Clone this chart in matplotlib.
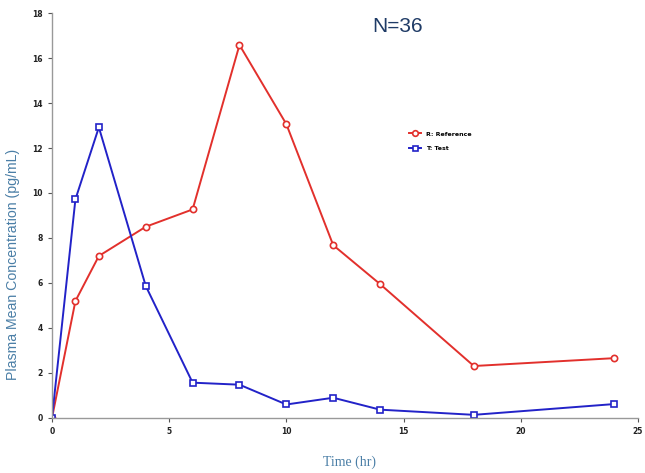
import matplotlib.pyplot as plt

# sampling times (hr)
times = [0, 1, 2, 4, 6, 8, 10, 12, 14, 18, 24]

# mean plasma concentrations (pg/mL)
reference = [0, 5.2, 7.2, 8.5, 9.27, 16.58, 13.06, 7.68, 5.95, 2.31, 2.66]
test = [0, 9.72, 12.92, 5.87, 1.57, 1.48, 0.6, 0.9, 0.37, 0.14, 0.62]

x_ticks = [0, 5, 10, 15, 20, 25]
y_ticks = [0, 2, 4, 6, 8, 10, 12, 14, 16, 18]

# figure
fig = plt.figure(figsize=(6.45, 4.73), dpi=100)
ax = fig.add_axes([0.0806, 0.1163, 0.9084, 0.8562])

ax.plot(times, reference, label="R: Reference", color='#e2302c', linewidth=1.4,
        marker='o', markersize=4.5, markerfacecolor='white', markeredgewidth=1.2)
ax.plot(times, test, label="T: Test", color='#2222c8', linewidth=1.4,
        marker='s', markersize=4, markerfacecolor='white', markeredgewidth=1.2)

ax.set_xlim(0, 25)
ax.set_ylim(0, 18)
ax.set_xticks(x_ticks)
ax.set_yticks(y_ticks)
ax.tick_params(labelsize=5.5, width=0.8, length=3, colors='#555555', labelcolor='#222222')
for lbl in ax.get_xticklabels() + ax.get_yticklabels():
    lbl.set_fontweight('bold')

# only left and bottom axis lines
for side in ['top', 'right']:
    ax.spines[side].set_visible(False)
for side in ['left', 'bottom']:
    ax.spines[side].set_color('#999999')
    ax.spines[side].set_linewidth(1.0)

ax.set_ylabel('Plasma Mean Concentration (pg/mL)', fontsize=10.2,
              family='Liberation Sans', color='#4a7ea6')
ax.yaxis.set_label_coords(-0.054, 0.378)
ax.set_xlabel('Time (hr)', fontsize=10, family='Liberation Serif',
              color='#4a7ea6')
ax.xaxis.set_label_coords(0.508, -0.092)

fig.text(0.616, 0.943, 'N=36', fontsize=15, color='#1f3b66',
         family='Liberation Sans', ha='center', va='center')

ax.legend(loc='upper left', bbox_to_anchor=(0.599, 0.722),
          frameon=False, handlelength=2, markerscale=0.9, labelspacing=1.45,
          prop={'weight': 'bold', 'size': 4.5})

plt.savefig('out.png', dpi=100)
